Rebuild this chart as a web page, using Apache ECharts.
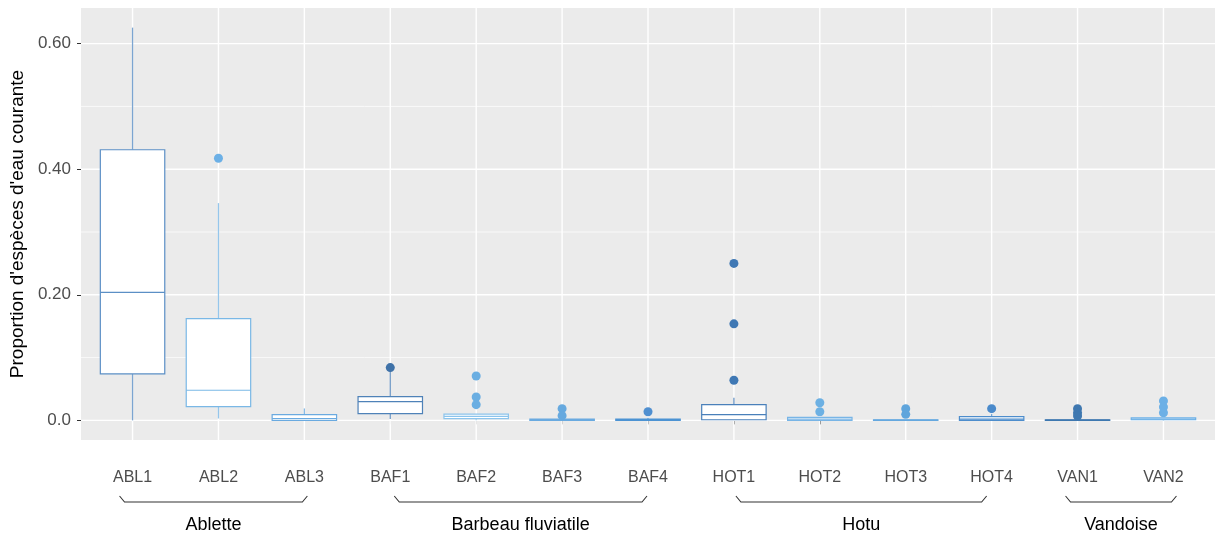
<!DOCTYPE html>
<html><head><meta charset="utf-8">
<script src="https://cdn.jsdelivr.net/npm/echarts@6/dist/echarts.min.js"></script>
<style>html,body{margin:0;padding:0;background:#fff}#c{width:1216px;height:535px}</style>
</head><body><div id="c"></div>
<script>
// ---- data ----
const categories = ['ABL1','ABL2','ABL3','BAF1','BAF2','BAF3','BAF4','HOT1','HOT2','HOT3','HOT4','VAN1','VAN2'];
const whiskerLow  = [0.000, 0.003, 0.000, 0.002, 0.000, 0.000, 0.000, 0.001, 0.000, 0.000, 0.000, 0.000, 0.000];
const q1          = [0.074, 0.022, 0.000, 0.0107,0.0027,0.000, 0.000, 0.001, 0.000, 0.000, 0.000, 0.000, 0.001];
const median      = [0.204, 0.048, 0.003, 0.030, 0.0064,0.0005,0.001, 0.009, 0.002, 0.0005,0.002, 0.0005,0.002];
const q3          = [0.431, 0.162, 0.009, 0.0378,0.010, 0.002, 0.002, 0.025, 0.0048,0.001, 0.0059,0.001, 0.004];
const whiskerHigh = [0.6255,0.346, 0.019, 0.083, 0.010, 0.002, 0.004, 0.036, 0.0048,0.001, 0.010, 0.001, 0.004];
const boxColors   = ['#5b8fc5','#7ab8e6','#6aaae0','#4f82b8','#8cc4ec','#6aaae0','#4d93d3','#4a80ba','#78b5e6','#66a9df','#4d8dcc','#3f78b0','#6cb0e6'];
const outlierCategory = ['ABL2','BAF1','BAF2','BAF2','BAF2','BAF3','BAF3','BAF4','HOT1','HOT1','HOT1','HOT2','HOT2','HOT3','HOT3','HOT4','VAN1','VAN1','VAN1','VAN2','VAN2','VAN2'];
const outlierValues   = [0.4175, 0.084, 0.0707,0.0372,0.025, 0.0186,0.0075,0.0138,0.250, 0.1537,0.0638,0.028, 0.0138,0.0186,0.0096,0.0186,0.0186,0.012, 0.0069,0.031, 0.0213,0.0122];
const outlierColors   = ['#6cb0e6','#3f72a8','#6aaee2','#6aaee2','#6aaee2','#66a9df','#66a9df','#4f8fd0','#3f78b4','#3f78b4','#3f78b4','#6cb0e3','#6cb0e3','#5fa5dc','#5fa5dc','#4a8acb','#3f78b0','#3f78b0','#3f78b0','#6cb0e6','#6cb0e6','#6cb0e6'];
const groupNames = ['Ablette','Barbeau fluviatile','Hotu','Vandoise'];
const groupFirst = ['ABL1','BAF1','HOT1','VAN1'];
const groupLast  = ['ABL3','BAF4','HOT4','VAN2'];
const yMajorTicks = [0, 0.2, 0.4, 0.6];
const yMinorTicks = [0.1, 0.3, 0.5];
const yTickLabels = ['0.0','0.20','0.40','0.60'];
const yTitle = "Proportion d'espèces d'eau courante";

// ---- layout-only bracket end adjustments (px) ----
const BRACKET_PAD = [[-13, 3], [4, -1], [2, -5], [-12, 13]];

// ---- scales (ggplot-like expansion) ----
const allVals = whiskerLow.concat(whiskerHigh, outlierValues);
const dLo = Math.min.apply(null, allVals), dHi = Math.max.apply(null, allVals);
const yMin = dLo - 0.05 * (dHi - dLo), yMax = dHi + 0.05 * (dHi - dLo);
const xMin = 1 - 0.6, xMax = categories.length + 0.6;
const xPos = categories.map((c, i) => i + 1);
const catIdx = c => categories.indexOf(c) + 1;

const chart = echarts.init(document.getElementById('c'), null, {renderer: 'canvas'});
const FONT = 'Liberation Sans, Arial, Helvetica, sans-serif';

const gridData = []
  .concat(xPos.map(v => [v, 0, 'v']))
  .concat(yMajorTicks.map(v => [0, v, 'hM']))
  .concat(yMinorTicks.map(v => [0, v, 'hm']));

const option = {
  animation: false,
  grid: {left: 81, right: 1, top: 8, bottom: 95, show: true, backgroundColor: '#EBEBEB', borderWidth: 0},
  xAxis: {
    type: 'value', min: xMin, max: xMax,
    axisLine: {show: false}, splitLine: {show: false},
    axisTick: {show: true, customValues: xPos, length: 4, lineStyle: {color: '#333333', width: 1}},
    axisLabel: {customValues: xPos, formatter: v => categories[Math.round(v) - 1], color: '#4D4D4D', fontSize: 16, fontFamily: FONT, margin: 30}
  },
  yAxis: {
    type: 'value', min: yMin, max: yMax,
    axisLine: {show: false}, splitLine: {show: false},
    axisTick: {show: true, customValues: yMajorTicks, length: 4, lineStyle: {color: '#333333', width: 1}},
    axisLabel: {customValues: yMajorTicks, formatter: v => yTickLabels[yMajorTicks.indexOf(v)] || v.toFixed(2), color: '#4D4D4D', fontSize: 17, fontFamily: FONT, margin: 10},
    name: yTitle, nameLocation: 'middle', nameRotate: 90, nameGap: 52,
    nameTextStyle: {color: '#000', fontSize: 19, fontFamily: FONT}
  },
  series: [
    {
      type: 'custom', name: 'grid', z: 1, silent: true,
      data: gridData,
      renderItem: function (params, api) {
        const kind = gridData[params.dataIndex][2];
        if (kind === 'v') {
          const a = api.coord([api.value(0), yMin]), b = api.coord([api.value(0), yMax]);
          return {type: 'line', shape: {x1: a[0], y1: a[1], x2: b[0], y2: b[1]}, style: {stroke: '#FFFFFF', lineWidth: 1.4}};
        }
        const a = api.coord([xMin, api.value(1)]), b = api.coord([xMax, api.value(1)]);
        return {type: 'line', shape: {x1: a[0], y1: a[1], x2: b[0], y2: b[1]}, style: {stroke: '#FFFFFF', lineWidth: kind === 'hM' ? 1.4 : 0.7}};
      }
    },
    {
      type: 'custom', name: 'boxes', z: 3,
      encode: {x: 0, y: [1, 2, 3, 4, 5]},
      data: categories.map((c, i) => [i + 1, whiskerLow[i], q1[i], median[i], q3[i], whiskerHigh[i]]),
      renderItem: function (params, api) {
        const x = api.value(0), lo = api.value(1), a = api.value(2), m = api.value(3), b = api.value(4), hi = api.value(5);
        const c = boxColors[params.dataIndex];
        const hw = 0.375;
        const tl = api.coord([x - hw, b]), br = api.coord([x + hw, a]);
        const pHi = api.coord([x, hi]), pQ3 = api.coord([x, b]), pQ1 = api.coord([x, a]), pLo = api.coord([x, lo]);
        const mL = api.coord([x - hw, m]), mR = api.coord([x + hw, m]);
        return {type: 'group', children: [
          {type: 'line', shape: {x1: pHi[0], y1: pHi[1], x2: pQ3[0], y2: pQ3[1]}, style: {stroke: c, lineWidth: 1.3, opacity: 0.8}},
          {type: 'line', shape: {x1: pLo[0], y1: pLo[1], x2: pQ1[0], y2: pQ1[1]}, style: {stroke: c, lineWidth: 1.3, opacity: 0.8}},
          {type: 'rect', shape: {x: tl[0], y: tl[1], width: br[0] - tl[0], height: br[1] - tl[1]}, style: {fill: '#FFFFFF', stroke: c, lineWidth: 1.2}},
          {type: 'line', shape: {x1: mL[0], y1: mL[1], x2: mR[0], y2: mR[1]}, style: {stroke: c, lineWidth: 1.2}}
        ]};
      }
    },
    {
      type: 'scatter', name: 'outliers', z: 4, symbolSize: 9,
      data: outlierCategory.map((c, i) => [catIdx(c), outlierValues[i]]),
      itemStyle: {color: p => outlierColors[p.dataIndex], opacity: 1}
    },
    {
      type: 'custom', name: 'groups', z: 5, clip: false, silent: true,
      data: groupNames.map((g, i) => [catIdx(groupFirst[i]), catIdx(groupLast[i])]),
      renderItem: function (params, api) {
        const p1 = api.coord([api.value(0), yMin]), p2 = api.coord([api.value(1), yMin]);
        const by = p1[1];
        const pad = BRACKET_PAD[params.dataIndex];
        const x1 = p1[0] + pad[0], x2 = p2[0] + pad[1];
        const topY = by + 56, lineY = by + 62;
        return {type: 'group', children: [
          {type: 'polyline', shape: {points: [[x1, topY], [x1 + 5, lineY], [x2 - 5, lineY], [x2, topY]]}, style: {stroke: '#333333', lineWidth: 1.1, fill: null}},
          {type: 'text', x: (x1 + x2) / 2, y: by + 85, style: {text: groupNames[params.dataIndex], fill: '#000', font: '18px ' + FONT, align: 'center', verticalAlign: 'middle'}}
        ]};
      }
    }
  ]
};
chart.setOption(option);
</script></body></html>
